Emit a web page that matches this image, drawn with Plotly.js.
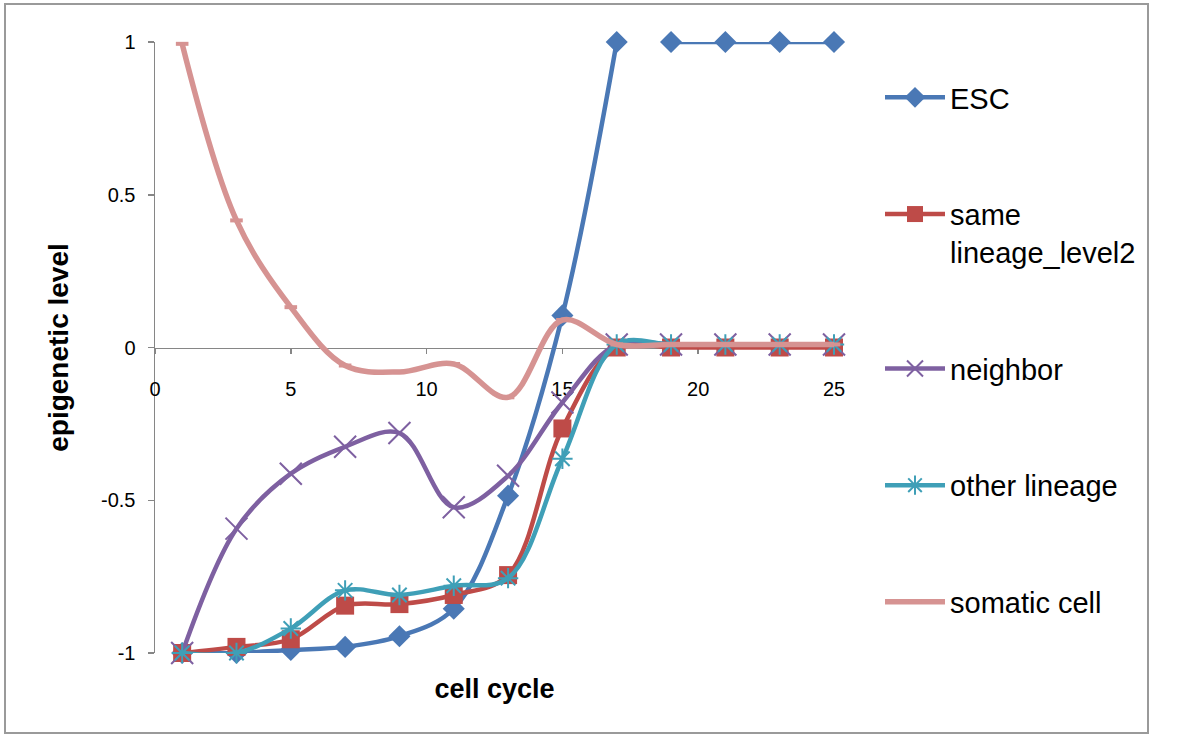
<!DOCTYPE html>
<html><head><meta charset="utf-8">
<script src="https://cdn.plot.ly/plotly-3.0.1.min.js"></script>
<style>html,body{margin:0;padding:0;background:#fff;} #chart{width:1200px;height:750px;}</style>
</head><body><div id="chart"></div>
<script>
// ---- data ----
const cycles = [1, 3, 5, 7, 9, 11, 13, 15, 17, 19, 21, 23, 25];
// ESC has a missing value between 17 and 19 (gap in its line)
const escCycles = [1, 3, 5, 7, 9, 11, 13, 15, 17, 18, 19, 21, 23, 25];
const esc = [-1, -1, -0.99, -0.98, -0.945, -0.855, -0.485, 0.105, 1, null, 1, 1, 1, 1];
const sameLineage = [-1, -0.98, -0.955, -0.845, -0.84, -0.81, -0.745, -0.265, 0, 0, 0, 0, 0];
const neighbor = [-1, -0.593, -0.413, -0.325, -0.28, -0.523, -0.42, -0.18, 0.01, 0.01, 0.01, 0.01, 0.01];
const otherLineage = [-1, -1, -0.92, -0.795, -0.81, -0.78, -0.755, -0.364, 0.01, 0.01, 0.01, 0.01, 0.01];
const somatic = [0.994, 0.416, 0.132, -0.059, -0.08, -0.054, -0.163, 0.09, 0.01, 0.01, 0.01, 0.01, 0.01];
const seriesNames = ['ESC', 'same<br>lineage_level2', 'neighbor', 'other lineage', 'somatic cell'];
const xTickVals = [0, 5, 10, 15, 20, 25];
const xTickText = ['0', '5', '10', '15', '20', '25'];
const yTickVals = [-1, -0.5, 0, 0.5, 1];
const yTickText = ['-1', '-0.5', '0', '0.5', '1'];

// ---- styling ----
const W = 1200, H = 750, L = 155, R = 366, T = 42, B = 97;
const PW = W - L - R, PH = H - T - B;
const px2x = p => (p - L) / PW;
const py2y = p => (H - B - p) / PH;
const colors = ['#4A78B5', '#BE4B48', '#7E60A1', '#3F9FB7', '#D69392'];
const axisGrey = '#868686';

const mk = (i, x, y, marker, lw) => ({
  type: 'scatter', mode: 'lines+markers', name: seriesNames[i], x: x, y: y,
  legendgroup: 'g' + i, connectgaps: false, cliponaxis: false,
  line: {color: colors[i], width: lw, shape: 'spline', smoothing: 1},
  marker: marker, hoverinfo: 'x+y+name'
});

const data = [
  mk(0, escCycles, esc, {symbol: 'diamond', size: 17, color: colors[0]}, 4.5),
  mk(1, cycles, sameLineage, {symbol: 'square', size: 18, color: colors[1]}, 4.5),
  mk(2, cycles, neighbor, {symbol: 'x-thin-open', size: 22, color: colors[2], line: {width: 2, color: colors[2]}}, 4.5),
  mk(3, cycles, otherLineage, {symbol: 'asterisk-open', size: 17, color: colors[3], line: {width: 2, color: colors[3]}}, 4.5),
  mk(4, cycles, somatic, {symbol: 'line-ew-open', size: 9, color: colors[4], line: {width: 4, color: colors[4]}}, 5.5)
];

const layout = {
  width: W, height: H,
  margin: {l: L, r: R, t: T, b: B, pad: 0},
  paper_bgcolor: '#ffffff', plot_bgcolor: '#ffffff',
  font: {family: '"Liberation Sans", Arial, sans-serif', color: '#000'},
  showlegend: true,
  legend: {
    x: px2x(880), xanchor: 'left', y: py2y(72), yanchor: 'top',
    font: {size: 29, color: '#000'}, tracegroupgap: 76, valign: 'top',
    itemwidth: 60,
    bgcolor: 'rgba(0,0,0,0)', borderwidth: 0
  },
  xaxis: {
    range: [0, 25], anchor: 'free', position: 0.5,
    tickmode: 'array', tickvals: xTickVals, ticktext: xTickText,
    ticks: 'outside', ticklen: 5, tickwidth: 1.5, tickcolor: axisGrey,
    showline: true, linecolor: axisGrey, linewidth: 1.5, layer: 'below traces',
    showgrid: false, zeroline: false, automargin: false,
    tickfont: {size: 20}, ticklabelstandoff: 18,
    title: {text: 'cell cycle', font: {size: 27, weight: 'bold'}, standoff: 280}
  },
  yaxis: {
    range: [-1, 1], tickmode: 'array', tickvals: yTickVals, ticktext: yTickText,
    ticks: 'outside', ticklen: 6, tickwidth: 1.5, tickcolor: axisGrey,
    showline: true, linecolor: axisGrey, linewidth: 1.5, layer: 'below traces',
    showgrid: false, zeroline: false,
    tickfont: {size: 20}, ticklabelstandoff: 8, automargin: false,
    title: {text: 'epigenetic level', font: {size: 28, weight: 'bold'}, standoff: 24}
  },
  shapes: [{
    type: 'rect', xref: 'paper', yref: 'paper', layer: 'below',
    x0: px2x(5), x1: px2x(1148), y0: py2y(733), y1: py2y(4),
    line: {color: '#9a9a9a', width: 2}, fillcolor: 'rgba(0,0,0,0)'
  }]
};

Plotly.newPlot('chart', data, layout, {displayModeBar: false, staticPlot: true});
</script>
</body></html>
